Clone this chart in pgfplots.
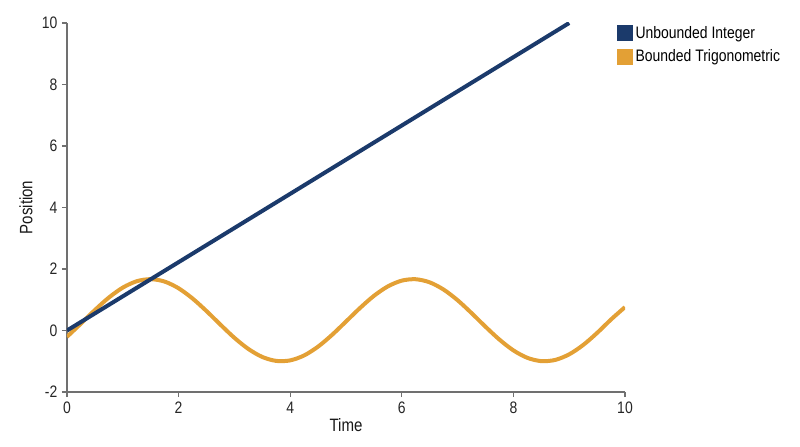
\documentclass[border=0pt]{standalone}
\usepackage{pgfplots}
\pgfplotsset{compat=1.18}
\usepackage{fontspec}
\setmainfont{Liberation Sans}[FakeStretch=0.84]
\definecolor{cblue}{HTML}{1B3A6B}
\definecolor{corange}{HTML}{E3A035}
\definecolor{axgray}{HTML}{707070}
\begin{document}
\begin{tikzpicture}
\path[use as bounding box] (-50.25bp,-41.25bp) rectangle (549.75bp,294bp);
\begin{axis}[
  at={(0,0)}, anchor=south west,
  scale only axis,
  width=418.5bp, height=276.75bp,
  xmin=0, xmax=10, ymin=-2, ymax=10,
  axis lines=left,
  axis line style={draw=axgray, line width=0.8pt, -},
  xtick={0,2,4,6,8,10},
  ytick={-2,0,2,4,6,8,10},
  tick align=outside,
  major tick length=3.75bp,
  tick style={draw=axgray, line width=0.8pt},
  /pgf/number format/assume math mode=true,
  ticklabel style={font=\fontsize{12.5}{14}\selectfont, text=black!85},
  xlabel={Time}, ylabel={Position},
  label style={font=\fontsize{13.5}{15}\selectfont, text=black!90},
  xlabel style={at={(axis description cs:0.5,-0.0894)}, anchor=center},
  ylabel style={at={(axis description cs:-0.0735,0.5)}, anchor=center},
  legend cell align=left,
  reverse legend,
  legend style={draw=none, fill=none, at={(axis description cs:0.985,0.999)}, anchor=north west,
    font=\fontsize{12.5}{14}\selectfont, row sep=3bp, inner sep=0pt},
]
\addplot[draw=corange, line width=3bp, smooth,
  legend image code/.code={\fill[corange] (0bp,-4.5bp) rectangle (9bp,4.5bp);}] coordinates {
(0,-0.205) (0.25,0.225) (0.5,0.666) (0.75,1.071) (1.0,1.395) (1.25,1.602)
(1.5,1.670) (1.75,1.591) (2.0,1.373) (2.25,1.041) (2.5,0.632) (2.75,0.190)
(3.0,-0.238) (3.25,-0.600) (3.5,-0.861) (3.75,-0.989) (4.0,-0.972) (4.25,-0.811)
(4.5,-0.524) (4.75,-0.142) (5.0,0.292) (5.25,0.730) (5.5,1.126) (5.75,1.434)
(6.0,1.622) (6.25,1.667) (6.5,1.566) (6.75,1.330) (7.0,0.985) (7.25,0.566)
(7.5,0.123) (7.75,-0.296) (8.0,-0.647) (8.25,-0.889) (8.5,-0.996) (8.75,-0.957)
(9.0,-0.775) (9.25,-0.472) (9.5,-0.079) (9.75,0.359) (10.0,0.760)};
\addlegendentry{Bounded Trigonometric}
\addplot[draw=cblue, line width=3bp,
  legend image code/.code={\fill[cblue] (0bp,-4.5bp) rectangle (9bp,4.5bp);}] coordinates {(0,0) (9,10)};
\addlegendentry{Unbounded Integer}
\end{axis}
\end{tikzpicture}
\end{document}
